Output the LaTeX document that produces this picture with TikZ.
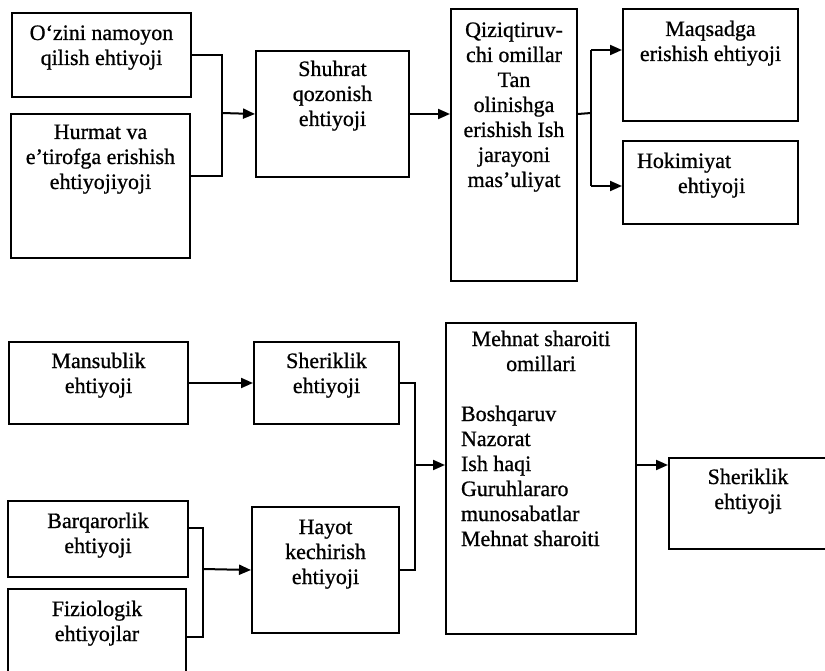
\documentclass[tikz,border=0pt]{standalone}
\usepackage{fontspec}
\setmainfont{Liberation Serif}[FakeBold=0.8]
\usepackage{tikz}
\usetikzlibrary{arrows.meta}

% box text: [first baseline]{width}{height}{lines}
\newcommand{\celltext}[4][26]{\parbox[t][#3pt][t]{#2pt}{\centering\rule{0pt}{#1pt}#4}}

\begin{document}
\begin{tikzpicture}[
    x=1pt, y=-1pt,
    box/.style={rectangle, draw, line width=2pt, inner sep=0pt, anchor=north west},
    link/.style={line width=2pt},
    arr/.style={-{Triangle[length=12pt,width=10pt]}, line width=2pt},
    font=\fontsize{22}{25}\selectfont
]
\clip (0,0) rectangle (825,671);

\node[box] (ozini) at (11,12) {\celltext[27]{179}{84}{O‘zini namoyon\\qilish ehtiyoji}};
\node[box] (hurmat) at (10,113) {\celltext[25]{179}{144}{Hurmat va\\e’tirofga erishish\\ehtiyojiyoji}};
\node[box] (shuhrat) at (255,50) {\celltext[25]{153}{126}{Shuhrat\\qozonish\\ehtiyoji}};
\node[box] (qiziq) at (450,8) {\celltext[28]{126}{272}{Qiziqtiruv-\\chi omillar\\Tan\\olinishga\\erishish Ish\\jarayoni\\mas’uliyat}};
\node[box] (maqsad) at (622,8) {\celltext[27]{175}{112}{Maqsadga\\erishish ehtiyoji}};
\node[box] (hokim) at (622,140) {\celltext[27]{175}{83}{\makebox[175pt][l]{\hspace{14pt}Hokimiyat}\\\makebox[175pt][l]{\hspace{55pt}ehtiyoji}}};

\node[box] (mansub) at (8,341) {\celltext[26]{179}{82}{Mansublik\\ehtiyoji}};
\node[box] (sherik) at (253,341) {\celltext[26]{145}{82}{Sheriklik\\ehtiyoji}};
\node[box] (barq) at (7,500) {\celltext[27]{180}{76}{Barqarorlik\\ehtiyoji}};
\node[box] (fizio) at (7,588) {\celltext[27]{178}{95}{Fiziologik\\ehtiyojlar}};
\node[box] (hayot) at (251,506) {\celltext[27]{147}{126}{Hayot\\kechirish\\ehtiyoji}};
\node[box] (mehnat) at (445,322) {\celltext[23]{190}{311}{Mehnat sharoiti\\omillari\par\vspace{25pt}\raggedright\leftskip=15pt Boshqaruv\\Nazorat\\Ish haqi\\Guruhlararo\\munosabatlar\\Mehnat sharoiti}};
\node[box] (sherik2) at (668,457) {\celltext[26]{158}{91}{Sheriklik\\ehtiyoji}};

% upper chain
\coordinate (j1) at (222,113);
\draw[link] (ozini.east) -| (j1) |- ([yshift=10pt]hurmat.east);
\draw[arr] (j1) -- (shuhrat.west);
\draw[arr] (shuhrat.east) -- (shuhrat.east -| qiziq.west);
\coordinate (j2) at (591,113);
\coordinate (ma) at (591,50);
\coordinate (ho) at (591,186);
\draw[link] (shuhrat.east -| qiziq.east) -- (j2);
\draw[link] (ma) -- (ho);
\draw[arr] (ma) -- (ma -| maqsad.west);
\draw[arr] (ho) -- (ho -| hokim.west);

% lower chain
\draw[arr] (mansub.east) -- (sherik.west);
\coordinate (j3) at (203,569);
\draw[link] ([yshift=11pt]barq.east) -| (j3) |- (fizio.east);
\draw[arr] (j3) -- (hayot.west);
\coordinate (j4) at (415,465);
\draw[link] (sherik.east) -| (j4) |- (hayot.east);
\draw[arr] (j4) -- (j4 -| mehnat.west);
\draw[arr] (j4 -| mehnat.east) -- (j4 -| sherik2.west);
\end{tikzpicture}
\end{document}
